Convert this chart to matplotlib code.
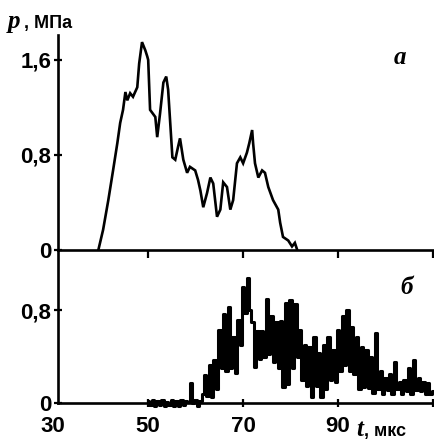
import numpy as np
import matplotlib
matplotlib.use("Agg")
import matplotlib.pyplot as plt

# (a) импульс давления, мкс / МПа
t_a = [39.5, 40.5, 41.6, 42.6, 43.5, 44.1, 44.7, 45.2, 45.6, 46.2, 46.8, 47.7,
       48.1, 48.7, 49.4, 49.8, 50.0, 50.4, 51.5, 51.9, 52.5, 53.2, 53.8, 54.2,
       55.1, 55.7, 56.3, 56.7, 57.4, 58.2, 58.8, 59.9, 60.5, 61.0, 61.6, 62.4,
       63.1, 63.7, 64.5, 65.2, 65.8, 66.6, 67.3, 67.9, 68.7, 69.4, 70.0, 70.8,
       71.3, 71.9, 72.1, 72.5, 73.2, 74.0, 74.6, 75.3, 76.3, 77.4, 77.8, 78.4,
       79.5, 80.3, 80.9, 81.4]
p_a = [0.00, 0.17, 0.42, 0.67, 0.90, 1.07, 1.18, 1.33, 1.26, 1.32, 1.29, 1.37,
       1.57, 1.75, 1.68, 1.63, 1.60, 1.18, 1.12, 0.95, 1.15, 1.41, 1.46, 1.35,
       0.78, 0.76, 0.87, 0.94, 0.76, 0.65, 0.70, 0.67, 0.59, 0.50, 0.36, 0.48,
       0.61, 0.56, 0.28, 0.34, 0.57, 0.53, 0.34, 0.42, 0.73, 0.78, 0.73, 0.82,
       0.90, 1.01, 0.90, 0.73, 0.61, 0.67, 0.65, 0.53, 0.42, 0.34, 0.23, 0.11,
       0.08, 0.03, 0.06, 0.00]

# (б) шумный сигнал, отсчёт каждые 0.5 мкс начиная с 50 мкс
t_b_start, t_b_step = 50.0, 0.5
p_b = [0.02, -0.02, 0.03, -0.03, 0.02, -0.02, 0.03, -0.03, 0.01, -0.02,   # 50-54.5
       0.03, -0.03, 0.02, -0.03, 0.03, -0.02, 0.02, 0.01, 0.17, 0.00,      # 55-59.5
       0.03, -0.03, 0.02, 0.08, 0.24, 0.06, 0.33, 0.05, 0.37, 0.12,        # 60-64.5
       0.63, 0.30, 0.77, 0.28, 0.83, 0.30, 0.57, 0.26, 0.72, 0.50,         # 65-69.5
       1.00, 0.78, 1.08, 0.80, 0.70, 0.31, 0.62, 0.38, 0.62, 0.40,         # 70-74.5
       0.90, 0.42, 0.75, 0.35, 0.70, 0.30, 0.71, 0.14, 0.86, 0.16,         # 75-79.5
       0.89, 0.30, 0.85, 0.40, 0.63, 0.20, 0.50, 0.15, 0.48, 0.05,         # 80-84.5
       0.57, 0.15, 0.43, 0.05, 0.50, 0.12, 0.57, 0.20, 0.46, 0.18,         # 85-89.5
       0.63, 0.28, 0.75, 0.33, 0.80, 0.28, 0.66, 0.25, 0.57, 0.12,         # 90-94.5
       0.48, 0.14, 0.46, 0.13, 0.40, 0.09, 0.60, 0.12, 0.28, 0.08,         # 95-99.5
       0.22, 0.11, 0.25, 0.08, 0.35, 0.12, 0.18, 0.08, 0.20, 0.10,         # 100-104.5
       0.30, 0.08, 0.37, 0.11, 0.22, 0.10, 0.18, 0.08, 0.17, 0.08,         # 105-109.5
       0.10]
t_b = t_b_start + t_b_step * np.arange(len(p_b))

x_ticks = [50, 70, 90, 110]
x_labels = ["50", "70", "90", ""]
ya_ticks = [0, 0.8, 1.6]
ya_labels = ["0", "0,8", "1,6"]
yb_ticks = [0, 0.8]
yb_labels = ["0", "0,8"]

W, H = 435, 441
fig = plt.figure(figsize=(W / 100, H / 100), dpi=100)
ax_a = fig.add_axes([58 / W, 1 - 250 / H, 375 / W, 215 / H])
ax_b = fig.add_axes([58 / W, 1 - 403 / H, 375 / W, 153 / H])

sans = "Liberation Sans"
serif = "Liberation Serif"
lab = dict(family=sans, weight="bold", size=16)

for ax in (ax_a, ax_b):
    ax.set_xlim(31, 110)
    ax.patch.set_alpha(0)
    for s in ("top", "right"):
        ax.spines[s].set_visible(False)
    for s in ("left", "bottom"):
        ax.spines[s].set_linewidth(1.9)
    ax.set_xticks(x_ticks)
    ax.tick_params(width=1.6, length=6)

ax_a.plot(t_a, p_a, color="black", lw=1.9, solid_joinstyle="miter")
ax_a.set_ylim(0, 1.81)
ax_a.set_yticks(ya_ticks)
ax_a.set_yticklabels(ya_labels, fontdict=lab)
ax_a.tick_params(axis="y", direction="inout", pad=2)
ax_a.tick_params(axis="x", direction="out", labelbottom=False)

ax_b.plot(t_b, p_b, color="black", lw=2.2, clip_on=False, drawstyle="steps-mid")
ax_b.set_ylim(0, 1.32)
ax_b.set_yticks(yb_ticks)
ax_b.set_yticklabels(yb_labels, fontdict=lab)
ax_b.tick_params(axis="y", direction="inout", pad=2)
ax_b.tick_params(axis="x", direction="inout", pad=6)
ax_b.set_xticklabels(x_labels, fontdict=lab)
ax_b.text(30, -0.115, "30", ha="center", va="top", clip_on=False,
          transform=ax_b.transData, **lab)

# подписи осей и панелей
fig.text(8 / W, 1 - 28 / H, "p", family=serif, style="italic", weight="bold",
         size=18, va="baseline")
fig.text(24 / W, 1 - 28 / H, ", МПа", family=sans, weight="bold", size=13,
         va="baseline")
fig.text(356 / W, 1 - 436 / H, "t", family=serif, style="italic", weight="bold",
         size=18, va="baseline")
fig.text(364 / W, 1 - 436 / H, ", мкс", family=sans, weight="bold", size=13,
         va="baseline")
fig.text(400 / W, 1 - 57 / H, "а", family=serif, style="italic", weight="bold",
         size=18, ha="center", va="center")
fig.text(407 / W, 1 - 288 / H, "б", family=serif, style="italic", weight="bold",
         size=18, ha="center", va="center")

fig.savefig("out.png", dpi=100)
